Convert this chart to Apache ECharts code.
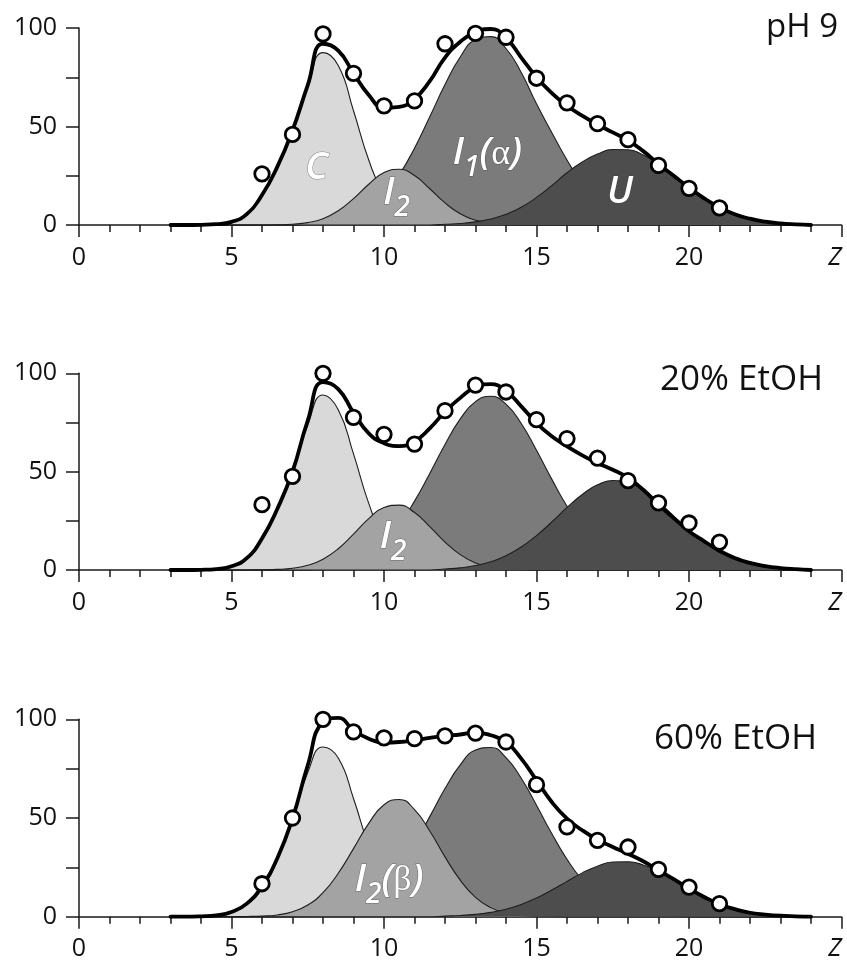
<!DOCTYPE html>
<html><head><meta charset="utf-8">
<script src="https://cdn.jsdelivr.net/npm/echarts@6/dist/echarts.min.js"></script>
<style>html,body{margin:0;padding:0;background:#fff}#c{width:847px;height:967px}</style>
</head><body><div id="c"></div><script>
// ---------- data ----------
const zGrid = [3,3.5,4,4.5,5,5.5,6,6.5,7,7.5, 8,8.5,9,9.5,10,10.5,11,11.5,12,12.5,
  13,13.5,14,14.5,15,15.5,16,16.5,17,17.5, 18,18.5,19,19.5,20,20.5,21,21.5,22,22.5, 23,23.5,24];
const pointZ = [6,7,8,9,10,11,12,13,14,15,16,17,18,19,20,21];
const xTickLabels = ['0','5','10','15','20','Z'];
const yTickLabels = ['0','50','100'];
const panelTitles = ['pH 9','20% EtOH','60% EtOH'];

// Panel 1: pH 9
const p1C  = [0,0,0.1,0.4,1.6,5.5,15,29,47.5,70, 87.5,81,58,33,15,5.5,1.5,0.3,0,0, 0,0,0,0,0,0,0,0,0,0, 0,0,0,0,0,0,0,0,0,0, 0,0,0];
const p1I1 = [0,0,0,0,0,0,0,0,0,0.4, 0.9,2.1,4.4,8.5,15.4,25.5,39,54.9,71.3,85.3, 94.1,95.6,89.6,77.4,61.5,47,33,21,12.5,6.5, 3.2,1.5,0.6,0.2,0,0,0,0,0,0, 0,0,0];
const p1I2 = [0,0,0,0,0,0,0,0.1,0.4,1.2, 3.2,7.2,13.4,20.7,26.6,28.3,25.1,18.4,11.2,5.7, 2.4,0.8,0.2,0,0,0,0,0,0,0, 0,0,0,0,0,0,0,0,0,0, 0,0,0];
const p1U  = [0,0,0,0,0,0,0,0,0,0, 0,0,0,0,0,0,0,0,0.4,0.8, 1.6,3,5.4,9,14,20,26.5,32,36,38.3, 38.2,35.5,31,25.3,19.4,13.8,9.2,5.8,3.4,1.8, 0.9,0.4,0.2];
const p1Fit = [0,0,0.1,0.4,1.6,5.5,15.2,29.5,48,71, 92,88.5,77,66,59.5,60,64,73,85,93, 98,99.5,95,85,75,67,60.5,55.5,51,47, 43,37.5,31,25,19,13.5,9,5.5,3.2,1.7, 0.8,0.3,0];
const p1Pts = [26,46,97,77,60.5,63,92,97.3,95.3,74.5,62,51.5,43.3,30.3,18.6,8.7];

// Panel 2: 20% EtOH
const p2C  = [0,0,0.1,0.5,1.9,6,15.5,30.5,49,73.5, 89,81.5,59,33.9,15.4,5.6,1.6,0.4,0.1,0, 0,0,0,0,0,0,0,0,0,0, 0,0,0,0,0,0,0,0,0,0, 0,0,0];
const p2I1 = [0,0,0,0,0,0,0,0,0,0, 0.9,2,4.2,7.9,14.1,23.1,35,49.1,63.8,76.8, 85.6,88.3,84.3,74.5,60.9,46.2,32.4,21,12.6,7, 3.6,1.7,0.8,0.3,0.1,0,0,0,0,0, 0,0,0];
const p2I2 = [0,0,0,0,0,0,0.1,0.3,0.9,2.4, 5.5,10.8,18.2,26.1,31.8,33,29.2,22.1,14.2,7.8, 3.6,1.4,0.5,0.15,0,0,0,0,0,0, 0,0,0,0,0,0,0,0,0,0, 0,0,0];
const p2U  = [0,0,0,0,0,0,0,0,0,0, 0,0,0,0,0,0,0,0,0.5,1.1, 2.3,4.2,7.3,11.7,17.5,24.4,31.8,38.4,43.3,45.5, 44.6,40.7,34.6,27.4,20.2,13.9,8.9,5.3,3,1.5, 0.7,0.3,0.1];
const p2Fit = [0,0,0.1,0.5,1.9,6,16,31,50,76, 95.5,92,80,69.5,64.5,63,65.4,72,80.5,87.5, 93,94.5,91,83.2,74.7,68,62.9,58.3,54.4,51, 46.8,40.8,33.2,26.4,19.7,14.6,9.8,6.1,3.6,2, 1,0.4,0];
const p2Pts = [33.2,47.6,100,77.6,69,64,81,94,90.5,76.4,66.8,56.9,45.4,34.1,23.9,14.2];

// Panel 3: 60% EtOH
const p3C  = [0,0,0.2,0.7,2.2,6.4,14,29,49,73, 86,80.4,59.9,35.6,16.8,6.3,1.9,0.5,0.1,0, 0,0,0,0,0,0,0,0,0,0, 0,0,0,0,0,0,0,0,0,0, 0,0,0];
const p3I1 = [0,0,0,0,0,0,0,0,0,0.4, 1,2.3,4.6,8.7,15.2,24.6,36.7,50.7,64.9,76.9, 84.4,85.7,80.6,70.1,56.5,42.1,29.1,18.6,11,6, 3.1,1.4,0.6,0.2,0.1,0,0,0,0,0, 0,0,0];
const p3I2 = [0,0,0,0,0,0.1,0.3,0.9,2.5,5.9, 12.2,22,34.5,47.3,56.7,59.4,54.3,43.4,30.3,18.5, 9.8,4.6,1.9,0.7,0.2,0.1,0,0,0,0, 0,0,0,0,0,0,0,0,0,0, 0,0,0];
const p3U  = [0,0,0,0,0,0,0,0,0,0, 0,0,0,0,0,0,0,0,0.3,0.6, 1.2,2.2,3.8,6.2,9.5,13.5,17.9,22.2,25.6,27.7, 27.8,26.2,22.9,18.8,14.3,10.2,6.8,4.2,2.4,1.3, 0.7,0.3,0.1];
const p3Fit = [0,0,0.2,0.7,2.4,6.6,15.5,29.5,49.7,76.7, 98.7,100.7,94.5,90.2,88.2,88.5,89.4,90.6,91.6,92.3, 93.3,91.9,88.5,80.1,69.1,58.1,49.7,43.8,39,35.3, 31.9,28.1,23.5,19,14.2,10,6.3,3.8,2,1.1, 0.5,0.2,0];
const p3Pts = [16.7,50,100,93.6,90.6,90.2,91.6,93,88.5,66.9,45.5,38.7,35.3,24,15,6.6];

// component labels: [panel, z, value, rich text]
const compLabels = [
  [0, 7.79, 27.1, '{i|C}'],
  [0, 10.41, 14.6, '{i|I}{s|2}'],
  [0, 13.39, 34.9, '{i|I}{s|1}{i|(}{g|α}{i|)}'],
  [0, 17.74, 15.2, '{i|U}'],
  [1, 10.3, 15.4, '{i|I}{s|2}'],
  [2, 10.17, 17.2, '{i|I}{s|2}{i|(}{g|β}{i|)}']
];

// ---------- layout / style ----------
const FONT = "'Open Sans', 'Noto Sans', 'DejaVu Sans', sans-serif";
const gridBoxes = [{top:28,height:197},{top:373.3,height:196.7},{top:719.3,height:197.4}];
const titleBoxes = [{x:838,y:28,size:33},{x:823,y:380,size:35},{x:817,y:739.5,size:35}];
const compColors = ['#d9d9d9','#7b7b7b','#a3a3a3','#4d4d4d']; // C, I1, I2, U (draw order)

const panels = [
  {comps:[p1C,p1I1,p1I2,p1U], fit:p1Fit, pts:p1Pts},
  {comps:[p2C,p2I1,p2I2,p2U], fit:p2Fit, pts:p2Pts},
  {comps:[p3C,p3I1,p3I2,p3U], fit:p3Fit, pts:p3Pts}
];

const grid = [], xAxis = [], yAxis = [], series = [];
panels.forEach((p, g) => {
  grid.push({left:79, width:762.5, top:gridBoxes[g].top, height:gridBoxes[g].height, outerBoundsMode:'none', containLabel:false});
  xAxis.push({
    type:'value', gridIndex:g, min:0, max:25, interval:5,
    axisLine:{show:true, onZero:false, lineStyle:{color:'#1a1a1a', width:1.5}},
    axisTick:{show:true, length:12, lineStyle:{color:'#1a1a1a', width:1.5}},
    minorTick:{show:true, splitNumber:5, length:7, lineStyle:{color:'#1a1a1a', width:1.5}},
    splitLine:{show:false}, minorSplitLine:{show:false},
    axisLabel:{
      margin:20, color:'#111', fontSize:25, fontFamily:FONT, alignMaxLabel:'right',
      formatter: v => { const t = xTickLabels[Math.round(v/5)]; return t === 'Z' ? '{z|Z}' : t; },
      rich:{z:{fontStyle:'italic', fontSize:25, fontFamily:FONT, color:'#111'}}
    }
  });
  yAxis.push({
    type:'value', gridIndex:g, min:0, max:100, interval:25,
    axisLine:{show:true, onZero:false, lineStyle:{color:'#1a1a1a', width:1.5}},
    axisTick:{show:true, length:13, lineStyle:{color:'#1a1a1a', width:1.5}},
    splitLine:{show:false},
    axisLabel:{
      margin:22, color:'#111', fontSize:25, fontFamily:FONT,
      formatter: v => (v % 50 === 0 ? yTickLabels[v/50] : '')
    }
  });
  p.comps.forEach((arr, k) => {
    series.push({
      type:'line', xAxisIndex:g, yAxisIndex:g, clip:false,
      data: zGrid.map((z,i) => [z, arr[i]]),
      smooth:0.5, symbol:'none', silent:true,
      lineStyle:{color:'#1e1e1e', width:1.1},
      areaStyle:{color:compColors[k], opacity:1, origin:'start'},
      z:2 + k*0.01
    });
  });
  series.push({
    type:'line', xAxisIndex:g, yAxisIndex:g, clip:false,
    data: zGrid.map((z,i) => [z, p.fit[i]]),
    smooth:0.5, symbol:'none', silent:true,
    lineStyle:{color:'#000', width:3.8, cap:'round'}, z:3
  });
  series.push({
    type:'scatter', xAxisIndex:g, yAxisIndex:g, clip:false,
    data: pointZ.map((z,i) => [z, p.pts[i]]),
    symbol:'circle', symbolSize:14.5, silent:true,
    itemStyle:{color:'#fff', borderColor:'#000', borderWidth:2.8, opacity:1}, z:4
  });
});

const chart = echarts.init(document.getElementById('c'), null, {renderer:'canvas'});
chart.setOption({
  animation:false, backgroundColor:'#fff',
  textStyle:{fontFamily:FONT},
  grid, xAxis, yAxis, series
});

// texts: panel titles and component labels (anchored in data coordinates)
const graphics = panelTitles.map((t, g) => ({
  type:'text', z:10,
  style:{text:t, x:titleBoxes[g].x, y:titleBoxes[g].y, textAlign:'right', textVerticalAlign:'middle',
    fill:'#111', font:`normal ${titleBoxes[g].size}px ${FONT}`}
}));
const STROKE = 'rgba(60,60,60,0.55)';
const richStyle = {
  i:{fontSize:38, fontStyle:'italic', fontWeight:600, fontFamily:FONT, fill:'#fff', stroke:STROKE, lineWidth:1,
     lineHeight:44, verticalAlign:'top'},
  s:{fontSize:28, fontStyle:'italic', fontWeight:600, fontFamily:FONT, fill:'#fff', stroke:STROKE, lineWidth:1,
     lineHeight:30, verticalAlign:'top', padding:[20,0,0,0]},
  g:{fontSize:36, fontFamily:"'Liberation Serif', 'DejaVu Serif', serif", fill:'#fff', stroke:STROKE, lineWidth:1,
     lineHeight:44, verticalAlign:'top', padding:[2,0,0,0]}
};
compLabels.forEach(([g, z, v, txt]) => {
  const pt = chart.convertToPixel({gridIndex:g}, [z, v]);
  graphics.push({
    type:'text', z:10,
    style:{text:txt, x:pt[0], y:pt[1], textAlign:'center', textVerticalAlign:'middle', rich:richStyle}
  });
});
chart.setOption({graphic:graphics});
</script></body></html>
